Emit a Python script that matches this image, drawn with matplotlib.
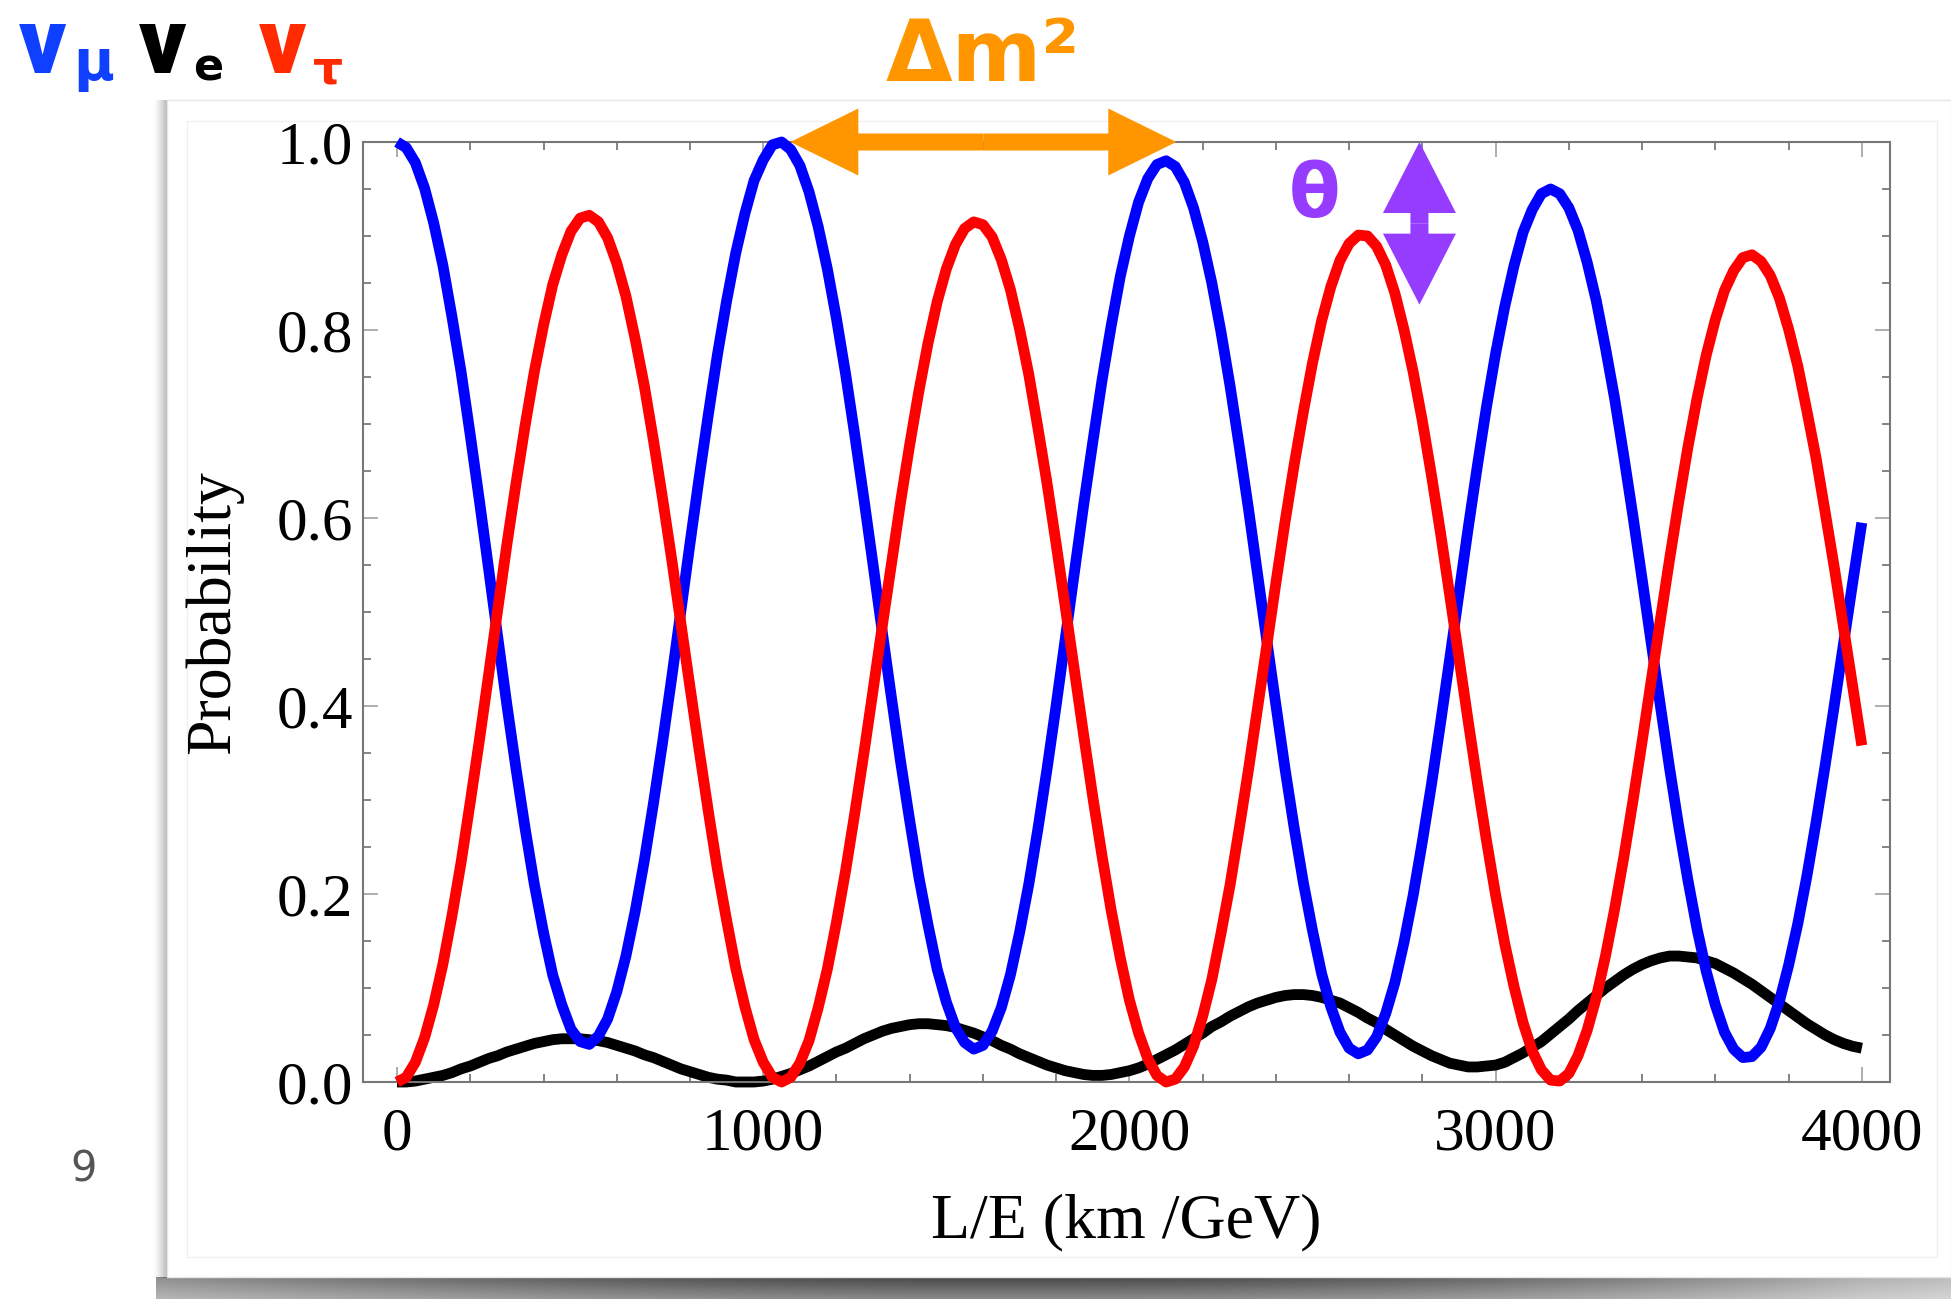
import numpy as np
import matplotlib
matplotlib.use("Agg")
import matplotlib.pyplot as plt
from matplotlib.patches import FancyArrowPatch, Rectangle
from matplotlib.ticker import MultipleLocator, FormatStrFormatter

# L/E sample positions (km/GeV) and probabilities
l_over_e = np.arange(0, 4001, 25)

p_mu = [1.000, 0.994, 0.978, 0.951, 0.914, 0.869, 0.814, 0.755, 0.688, 0.618,
        0.546, 0.473, 0.401, 0.333, 0.269, 0.210, 0.159, 0.114, 0.082, 0.056,
        0.043, 0.040, 0.049, 0.067, 0.096, 0.134, 0.181, 0.235, 0.296, 0.361,
        0.430, 0.501, 0.573, 0.643, 0.710, 0.774, 0.831, 0.882, 0.924, 0.959,
        0.981, 0.997, 1.000, 0.992, 0.975, 0.947, 0.910, 0.865, 0.812, 0.753,
        0.688, 0.620, 0.550, 0.479, 0.409, 0.341, 0.278, 0.218, 0.167, 0.120,
        0.085, 0.058, 0.042, 0.035, 0.039, 0.054, 0.079, 0.114, 0.159, 0.210,
        0.269, 0.333, 0.401, 0.472, 0.543, 0.614, 0.681, 0.746, 0.804, 0.857,
        0.900, 0.936, 0.961, 0.976, 0.980, 0.974, 0.957, 0.930, 0.894, 0.850,
        0.798, 0.740, 0.676, 0.610, 0.540, 0.470, 0.401, 0.333, 0.270, 0.212,
        0.161, 0.115, 0.080, 0.053, 0.036, 0.030, 0.034, 0.048, 0.073, 0.106,
        0.149, 0.199, 0.256, 0.317, 0.383, 0.451, 0.520, 0.589, 0.655, 0.718,
        0.775, 0.825, 0.868, 0.904, 0.928, 0.945, 0.950, 0.945, 0.930, 0.906,
        0.872, 0.831, 0.781, 0.727, 0.666, 0.602, 0.535, 0.467, 0.400, 0.334,
        0.272, 0.215, 0.163, 0.118, 0.082, 0.053, 0.035, 0.026, 0.027, 0.037,
        0.057, 0.086, 0.124, 0.168, 0.219, 0.276, 0.337, 0.401, 0.466, 0.531,
        0.595]

p_tau = [0.000, 0.005, 0.021, 0.047, 0.082, 0.125, 0.177, 0.234, 0.298, 0.364,
         0.433, 0.503, 0.572, 0.637, 0.699, 0.756, 0.805, 0.848, 0.880, 0.905,
         0.919, 0.922, 0.915, 0.898, 0.871, 0.836, 0.791, 0.741, 0.683, 0.621,
         0.556, 0.488, 0.420, 0.353, 0.288, 0.226, 0.172, 0.121, 0.080, 0.045,
         0.021, 0.005, 0.000, 0.005, 0.020, 0.044, 0.079, 0.120, 0.170, 0.225,
         0.286, 0.350, 0.417, 0.485, 0.551, 0.617, 0.678, 0.735, 0.786, 0.830,
         0.865, 0.891, 0.908, 0.915, 0.912, 0.899, 0.875, 0.843, 0.801, 0.753,
         0.696, 0.637, 0.572, 0.505, 0.437, 0.369, 0.303, 0.241, 0.183, 0.132,
         0.087, 0.052, 0.025, 0.007, 0.000, 0.003, 0.016, 0.038, 0.070, 0.109,
         0.158, 0.210, 0.270, 0.332, 0.398, 0.464, 0.531, 0.596, 0.657, 0.713,
         0.765, 0.810, 0.846, 0.874, 0.892, 0.901, 0.900, 0.889, 0.869, 0.839,
         0.800, 0.755, 0.703, 0.645, 0.583, 0.517, 0.451, 0.384, 0.319, 0.257,
         0.199, 0.147, 0.102, 0.063, 0.033, 0.013, 0.002, 0.001, 0.009, 0.028,
         0.055, 0.090, 0.134, 0.184, 0.239, 0.299, 0.362, 0.427, 0.492, 0.556,
         0.617, 0.675, 0.727, 0.773, 0.811, 0.842, 0.863, 0.877, 0.880, 0.873,
         0.858, 0.834, 0.801, 0.762, 0.714, 0.664, 0.606, 0.547, 0.484, 0.421,
         0.358]

p_e = [0.000, 0.000, 0.001, 0.003, 0.005, 0.007, 0.010, 0.014, 0.017, 0.021,
       0.025, 0.028, 0.032, 0.035, 0.038, 0.041, 0.043, 0.045, 0.046, 0.046,
       0.046, 0.045, 0.044, 0.042, 0.039, 0.036, 0.033, 0.029, 0.026, 0.022,
       0.018, 0.014, 0.011, 0.008, 0.005, 0.003, 0.002, 0.000, 0.000, 0.000,
       0.001, 0.003, 0.006, 0.009, 0.013, 0.017, 0.022, 0.027, 0.032, 0.036,
       0.041, 0.046, 0.050, 0.054, 0.057, 0.059, 0.061, 0.062, 0.062, 0.061,
       0.060, 0.058, 0.055, 0.052, 0.048, 0.044, 0.039, 0.035, 0.030, 0.026,
       0.022, 0.018, 0.015, 0.012, 0.010, 0.008, 0.007, 0.007, 0.008, 0.010,
       0.012, 0.015, 0.019, 0.024, 0.029, 0.034, 0.040, 0.046, 0.052, 0.059,
       0.064, 0.070, 0.075, 0.080, 0.084, 0.087, 0.090, 0.092, 0.093, 0.093,
       0.092, 0.090, 0.087, 0.084, 0.079, 0.074, 0.068, 0.063, 0.056, 0.050,
       0.044, 0.038, 0.033, 0.028, 0.024, 0.020, 0.018, 0.016, 0.016, 0.017,
       0.018, 0.021, 0.026, 0.031, 0.037, 0.043, 0.051, 0.059, 0.067, 0.076,
       0.084, 0.092, 0.100, 0.107, 0.114, 0.120, 0.125, 0.129, 0.132, 0.134,
       0.134, 0.133, 0.132, 0.129, 0.126, 0.121, 0.116, 0.110, 0.104, 0.097,
       0.090, 0.083, 0.076, 0.069, 0.062, 0.056, 0.050, 0.045, 0.041, 0.038,
       0.036]

W, H = 1951, 1299
ORANGE = "#FF9600"
PURPLE = "#963CFF"

plt.rcParams["font.family"] = "Liberation Serif"
fig = plt.figure(figsize=(W / 100, H / 100), dpi=100)

# background layer in pixel coordinates (y down): slide panel + drop shadow
bg = fig.add_axes([0, 0, 1, 1], zorder=-5)
bg.set_xlim(0, W)
bg.set_ylim(H, 0)
bg.axis("off")

ramp = np.linspace(0.0, 1.0, 16)
left_sh = np.zeros((1, 16, 4))
left_sh[0, :, 3] = 0.30 * ramp ** 1.5
bg.imshow(left_sh, extent=(152, 168, 1278, 100), aspect="auto", interpolation="bilinear", zorder=0)

ny, nx = 24, 200
xs = np.linspace(0, 1, nx)
ys = np.linspace(0, 1, ny)
bot_sh = np.zeros((ny, nx, 4))
horiz = 0.62 + 0.38 * np.sin(np.pi * np.clip(xs * 1.05, 0, 1)) - 0.25 * xs ** 6
vert = 0.72 - 0.25 * ys
bot_sh[..., 3] = np.clip(vert[:, None] * horiz[None, :], 0, 1)
bg.imshow(bot_sh, extent=(156, W, H, 1277), aspect="auto", interpolation="bilinear", zorder=0)

bg.add_patch(Rectangle((167, 100), W - 167, 1177, facecolor="white", edgecolor="#e6e6e6", lw=1.0, zorder=1))
bg.add_patch(Rectangle((187, 121), 1750, 1136, facecolor="none", edgecolor="#f0f0f0", lw=1.0, zorder=2))

# flavour labels top-left
sans = "DejaVu Sans"
nu_font = ["Roboto", "DejaVu Sans"]
bg.text(19, 73, "ν", color="#1040FF", fontsize=66, fontweight="black", family=nu_font, ha="left", va="baseline")
bg.text(73, 80, "μ", color="#1040FF", fontsize=40, fontweight="bold", family=sans, ha="left", va="baseline")
bg.text(139, 73, "ν", color="black", fontsize=66, fontweight="black", family=nu_font, ha="left", va="baseline")
bg.text(193, 80, "e", color="black", fontsize=32, fontweight="bold", family=sans, ha="left", va="baseline")
bg.text(259, 73, "ν", color="#FF2A00", fontsize=66, fontweight="black", family=nu_font, ha="left", va="baseline")
bg.text(313, 83, "τ", color="#FF2A00", fontsize=34, fontweight="bold", family=sans, ha="left", va="baseline")

bg.text(886, 81, "Δm²", color=ORANGE, fontsize=62, fontweight="bold", family=sans, ha="left", va="baseline")
bg.text(84, 1182, "9", color="#555555", fontsize=30, family=sans, ha="center", va="baseline")

# main plot
ax = fig.add_axes([363 / W, 1 - 1082 / H, (1890 - 363) / W, (1082 - 142) / H])
ax.patch.set_visible(False)
ax.set_xlim(-93, 4077)
ax.set_ylim(0, 1)

lw = 7.8
ax.plot(l_over_e, p_e, color="black", lw=lw, clip_on=False, zorder=2,
        solid_capstyle="butt", solid_joinstyle="round")
ax.plot(l_over_e, p_mu, color="#0000FF", lw=lw, clip_on=False, zorder=3,
        solid_capstyle="butt", solid_joinstyle="round")
ax.plot(l_over_e, p_tau, color="#FF0000", lw=lw, clip_on=False, zorder=4,
        solid_capstyle="butt", solid_joinstyle="round")

ax.xaxis.set_major_locator(MultipleLocator(1000))
ax.xaxis.set_minor_locator(MultipleLocator(200))
ax.yaxis.set_major_locator(MultipleLocator(0.2))
ax.yaxis.set_minor_locator(MultipleLocator(0.05))
ax.yaxis.set_major_formatter(FormatStrFormatter("%.1f"))

ax.tick_params(which="both", direction="in", top=True, right=True, labelsize=44)
ax.tick_params(which="major", length=11, width=1.2, color="#a0a0a0")
ax.tick_params(which="minor", length=5.5, width=1.2, color="#707070")
ax.tick_params(axis="x", pad=18)
ax.tick_params(axis="y", pad=7)
for s in ax.spines.values():
    s.set_color("#777777")
    s.set_linewidth(1.5)

ax.set_xlabel("L/E (km /GeV)", fontsize=46)
ax.set_ylabel("Probability", fontsize=46)
ax.xaxis.set_label_coords(0.5, -0.119)
ax.yaxis.set_label_coords(-0.0786, 0.5)

ax.text(2505, 0.920, "θ", color=PURPLE, fontsize=54, fontweight="bold", family=sans,
        ha="center", va="baseline", zorder=6)


# annotation arrows (double-headed, built from two simple arrows)
def double_arrow(p0, p1, hl, hw, tw, color):
    mid = ((p0[0] + p1[0]) / 2, (p0[1] + p1[1]) / 2)
    style = f"simple,head_length={hl},head_width={hw},tail_width={tw}"
    for end in (p0, p1):
        a = FancyArrowPatch(mid, end, arrowstyle=style, mutation_scale=72,
                            shrinkA=0, shrinkB=0, lw=0, color=color,
                            clip_on=False, zorder=6)
        ax.add_patch(a)


double_arrow((1074, 1.0), (2128, 1.0), 0.68, 0.67, 0.17, ORANGE)
double_arrow((2792, 1.0), (2792, 0.827), 0.71, 0.73, 0.18, PURPLE)

fig.savefig("out.png", dpi=100)
